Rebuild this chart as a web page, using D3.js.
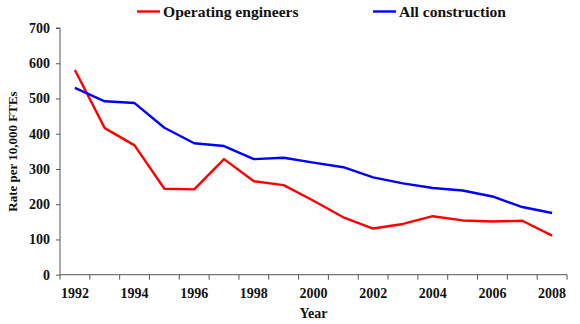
<!DOCTYPE html>
<html><head><meta charset="utf-8">
<script src="https://cdn.jsdelivr.net/npm/d3@7"></script>
<style>body{margin:0;background:#fff}svg{display:block}</style>
</head><body><svg id="c" width="580" height="324"></svg>
<script>
const years = [1992,1993,1994,1995,1996,1997,1998,1999,2000,2001,2002,2003,2004,2005,2006,2007,2008];
const operatingEngineers = [581,416,367,244,242,328,265,254,210,163,131,144,166,154,151,153,111];
const allConstruction = [530,492,487,417,373,365,328,332,318,305,276,259,246,239,222,192,175];
const yTicks = [0,100,200,300,400,500,600,700];
const xLabels = [1992,1994,1996,1998,2000,2002,2004,2006,2008];
const seriesNames = ["Operating engineers","All construction"];
const seriesColors = ["#ff0000","#0000ff"];

const svg = d3.select("#c");
const font = "'Liberation Serif','Times New Roman',serif";
const mL = 60, mR = 567, mT = 28, mB = 274.7;

const x = d3.scaleBand().domain(years).range([mL, mR]);
const y = d3.scaleLinear().domain([0,700]).range([mB, mT]);

// y axis
const ya = svg.append("g").attr("transform",`translate(${mL},0)`)
  .call(d3.axisLeft(y).tickValues(yTicks).tickSize(4).tickPadding(6));
// x axis
const xa = svg.append("g").attr("transform",`translate(0,${mB})`)
  .call(d3.axisBottom(x).tickSize(0).tickPadding(13).tickFormat(d => xLabels.includes(d) ? d : ""));
// x tick marks at band boundaries
const bounds = years.map(d => x(d)).concat([mR]);
xa.selectAll(".bt").data(bounds).enter().append("line")
  .attr("x1", d=>d).attr("x2", d=>d).attr("y1",0).attr("y2",5).attr("stroke","#555");

[ya, xa].forEach(a => {
  a.select(".domain").attr("stroke","#555");
  a.selectAll(".tick line").attr("stroke","#555");
  a.selectAll("text").attr("font-family",font).attr("font-weight","bold").attr("font-size","14px").attr("fill","#111");
});
ya.select(".domain").attr("d",`M-4,${mT}H0V${mB}`);
xa.select(".domain").attr("d",`M${mL},0H${mR}`);

const line = d3.line().x((d,i)=>x(years[i])+x.bandwidth()/2).y(d=>y(d));
[operatingEngineers, allConstruction].forEach((s,i)=>{
  svg.append("path").datum(s).attr("d",line).attr("fill","none")
    .attr("stroke",seriesColors[i]).attr("stroke-width",2.4).attr("stroke-linejoin","round");
});

// axis titles
svg.append("text").attr("x",(mL+mR)/2).attr("y",318).attr("text-anchor","middle")
  .attr("font-family",font).attr("font-weight","bold").attr("font-size","14px").attr("fill","#111").text("Year");
svg.append("text").attr("transform",`translate(17,151.5) rotate(-90)`).attr("text-anchor","middle")
  .attr("font-family",font).attr("font-weight","bold").attr("font-size","13px").attr("fill","#111").text("Rate per 10,000 FTEs");

// legend
const legendX = [137, 373];
seriesNames.forEach((n,i)=>{
  const g = svg.append("g").attr("transform",`translate(${legendX[i]},11.5)`);
  g.append("line").attr("x1",0).attr("x2",23).attr("y1",0).attr("y2",0).attr("stroke",seriesColors[i]).attr("stroke-width",2.4);
  g.append("text").attr("x",26).attr("y",5).attr("font-family",font).attr("font-weight","bold")
    .attr("font-size","15.6px").attr("fill","#111").text(n);
});
</script></body></html>
